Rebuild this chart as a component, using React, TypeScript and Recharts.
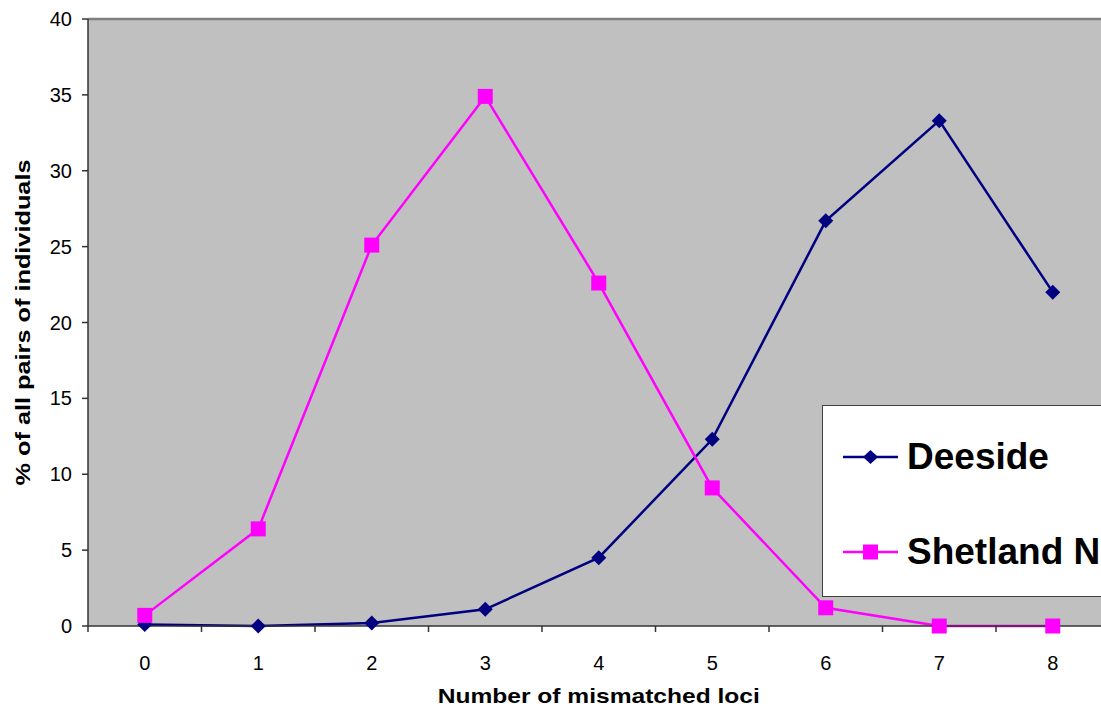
import React from "react";
import {
  LineChart,
  Line,
  XAxis,
  YAxis,
  CartesianGrid,
  ReferenceLine,
} from "recharts";

// number of mismatched loci (0..8)
const loci = [0, 1, 2, 3, 4, 5, 6, 7, 8];

// % of all pairs of individuals
const deeside = [0.1, 0, 0.2, 1.1, 4.5, 12.3, 26.7, 33.3, 22.0];
const shetland = [0.7, 6.4, 25.1, 34.9, 22.6, 9.1, 1.2, 0, 0];

const yTicks = [0, 5, 10, 15, 20, 25, 30, 35, 40];

const seriesNames = ["Deeside", "Shetland N"];

const data = loci.map((x, i) => ({
  x,
  deeside: deeside[i],
  shetland: shetland[i],
}));

// ticks on the category centres carry labels, the half ones are just marks
const xTicks: number[] = [];
for (let i = -0.5; i <= 8.5; i += 0.5) xTicks.push(i);

const NAVY = "#000080";
const MAGENTA = "#FF00FF";
const FONT = "'Liberation Sans', Arial, sans-serif";

const TICK_SIZE = 6;
const TICK_MARGIN = 24;

const Diamond = (props: any) => {
  const { cx, cy } = props;
  if (cx == null || cy == null) return null;
  const r = 7.5;
  return (
    <path
      d={`M${cx},${cy - r}L${cx + r},${cy}L${cx},${cy + r}L${cx - r},${cy}Z`}
      fill={NAVY}
    />
  );
};

const Square = (props: any) => {
  const { cx, cy } = props;
  if (cx == null || cy == null) return null;
  const s = 15;
  return <rect x={cx - s / 2} y={cy - s / 2} width={s} height={s} fill={MAGENTA} />;
};

const XTick = (props: any) => {
  const { x, y, payload } = props;
  const v = payload.value;
  if (Number.isInteger(v)) {
    return (
      <text
        x={x}
        y={y}
        dy="0.72em"
        textAnchor="middle"
        fontSize={20}
        fontFamily={FONT}
        fill="#000"
      >
        {v}
      </text>
    );
  }
  const axisY = y - TICK_SIZE - TICK_MARGIN;
  return <line x1={x} x2={x} y1={axisY} y2={axisY + 6} stroke="#333" strokeWidth={1.5} />;
};

const LegendRow = ({ color, marker, label }: { color: string; marker: "diamond" | "square"; label: string }) => (
  <div style={{ display: "flex", alignItems: "center", height: 95 }}>
    <svg width={84} height={30} style={{ flex: "none" }}>
      <line x1={20} x2={75} y1={15} y2={15} stroke={color} strokeWidth={2.5} />
      {marker === "diamond" ? (
        <path d="M47.5,8L55,15L47.5,22L40,15Z" fill={color} />
      ) : (
        <rect x={40} y={7.5} width={15} height={15} fill={color} />
      )}
    </svg>
    <span style={{ fontFamily: FONT, fontWeight: "bold", fontSize: 37, color: "#000", whiteSpace: "nowrap" }}>
      {label}
    </span>
  </div>
);

export default function App() {
  return (
    <div
      style={{
        position: "absolute",
        left: 0,
        top: 0,
        width: 1101,
        height: 707,
        overflow: "hidden",
        background: "#fff",
      }}
    >
      <LineChart
        width={1120}
        height={707}
        data={data}
        margin={{ top: 19, right: 10.5, left: 0, bottom: 0 }}
      >
        <CartesianGrid horizontal={false} vertical={false} fill="#C0C0C0" />
        <ReferenceLine y={40} stroke="#808080" strokeWidth={2.5} />
        <XAxis
          dataKey="x"
          type="number"
          domain={[-0.5, 8.5]}
          ticks={xTicks}
          interval={0}
          height={81}
          tickLine={false}
          tickSize={TICK_SIZE}
          tickMargin={TICK_MARGIN}
          tick={<XTick />}
          axisLine={{ stroke: "#333", strokeWidth: 1.5 }}
          label={(p: any) => {
            const vb = p.viewBox;
            return (
              <text
                x={vb.x + vb.width / 2}
                y={vb.y + 69}
                textAnchor="middle"
                dominantBaseline="central"
                fontFamily={FONT}
                fontWeight="bold"
                fontSize={21}
                textLength={322}
                lengthAdjust="spacingAndGlyphs"
                fill="#000"
              >
                Number of mismatched loci
              </text>
            );
          }}
        />
        <YAxis
          type="number"
          domain={[0, 40]}
          ticks={yTicks}
          interval={0}
          width={88}
          tickSize={6}
          tickMargin={10}
          tick={{ fontSize: 20, fontFamily: FONT, fill: "#000" }}
          tickLine={{ stroke: "#333", strokeWidth: 1.5 }}
          axisLine={{ stroke: "#333", strokeWidth: 1.5 }}
          label={(p: any) => {
            const vb = p.viewBox;
            const cy = vb.y + vb.height / 2;
            return (
              <text
                x={22}
                y={cy}
                transform={`rotate(-90, 22, ${cy})`}
                textAnchor="middle"
                dominantBaseline="central"
                fontFamily={FONT}
                fontWeight="bold"
                fontSize={21}
                textLength={326}
                lengthAdjust="spacingAndGlyphs"
                fill="#000"
              >
                % of all pairs of individuals
              </text>
            );
          }}
        />
        <Line
          dataKey="deeside"
          name={seriesNames[0]}
          stroke={NAVY}
          strokeWidth={2.5}
          dot={<Diamond />}
          activeDot={false}
          isAnimationActive={false}
        />
        <Line
          dataKey="shetland"
          name={seriesNames[1]}
          stroke={MAGENTA}
          strokeWidth={2.5}
          dot={<Square />}
          activeDot={false}
          isAnimationActive={false}
        />
      </LineChart>
      <div
        style={{
          position: "absolute",
          left: 822,
          top: 405,
          width: 320,
          height: 192,
          boxSizing: "border-box",
          background: "#fff",
          border: "1.5px solid #404040",
          paddingTop: 3,
        }}
      >
        <LegendRow color={NAVY} marker="diamond" label={seriesNames[0]} />
        <LegendRow color={MAGENTA} marker="square" label={seriesNames[1]} />
      </div>
    </div>
  );
}
